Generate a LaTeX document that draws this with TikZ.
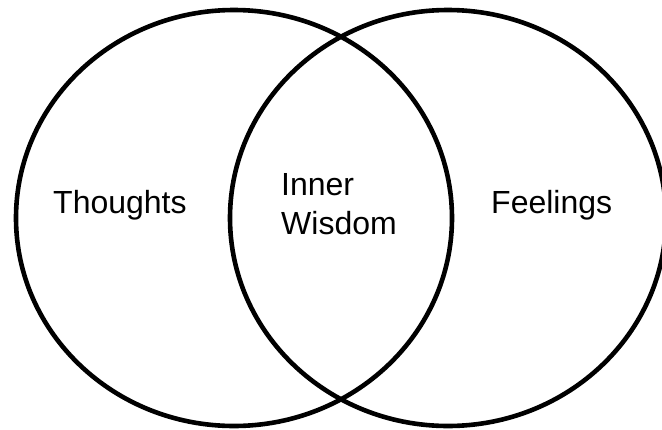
\documentclass[tikz,border=0pt]{standalone}
\usepackage{fontspec}
\setmainfont{Liberation Sans}
\begin{document}
\begin{tikzpicture}[
    x=1pt, y=-1pt,
    set/.style={draw=black, line width=4.6pt},
    lbl/.style={font=\fontsize{32}{39}\selectfont, inner sep=0pt, anchor=base west, align=left}
]
\useasboundingbox (0,0) rectangle (662,429);
\draw[set] (234,218) ellipse [x radius=218, y radius=208];
\draw[set] (448,218) ellipse [x radius=218, y radius=208];

\node[lbl] (thoughts) at (53,213)  {Thoughts};
\node[lbl] (feelings) at (491,213) {Feelings};
\node[lbl] (wisdom)   at (281,234) {Inner\\Wisdom};
\end{tikzpicture}
\end{document}
